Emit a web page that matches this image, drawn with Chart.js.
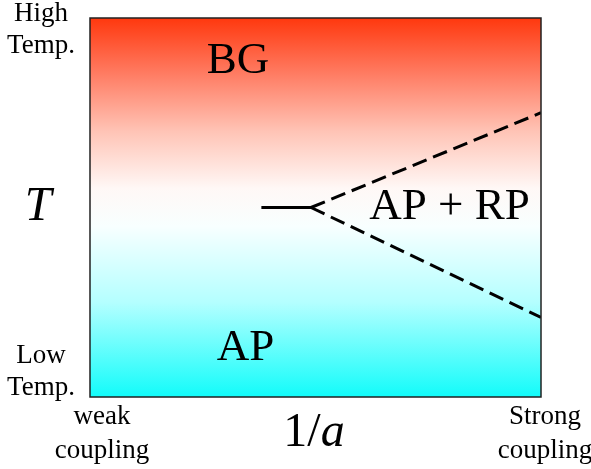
<!DOCTYPE html>
<html>
<head>
<meta charset="utf-8">
<script src="https://cdn.jsdelivr.net/npm/chart.js@4.4.0/dist/chart.umd.min.js"></script>
<style>
  html, body { margin: 0; padding: 0; background: #fff; }
  #wrap { position: relative; width: 591px; height: 469px; }
</style>
</head>
<body>
<div id="wrap"><canvas id="phase" width="591" height="469"></canvas></div>
<script>
// Фазовая диаграмма: T против 1/a
const solidX = [0.38, 0.49];
const solidY = [0.5, 0.5];
const upperX = [0.49, 1.0];
const upperY = [0.5, 0.75];
const lowerX = [0.49, 1.0];
const lowerY = [0.5, 0.21];

// подписи областей (в координатах данных)
const regionNames = ['BG', 'AP + RP', 'AP'];
const regionX = [0.328, 0.797, 0.345];
const regionY = [0.885, 0.5, 0.13];

const serif = '"Liberation Serif", "Times New Roman", serif';

function toPoints(xs, ys) {
  return xs.map((x, i) => ({ x: x, y: ys[i] }));
}

// фон-градиент и рамка
const backdrop = {
  id: 'backdrop',
  beforeDatasetsDraw(chart) {
    const { ctx, chartArea: a } = chart;
    const g = ctx.createLinearGradient(0, a.top, 0, a.bottom);
    g.addColorStop(0, 'rgb(255,56,14)');
    g.addColorStop(0.15, 'rgb(255,125,100)');
    g.addColorStop(0.3, 'rgb(255,196,182)');
    g.addColorStop(0.45, 'rgb(255,248,246)');
    g.addColorStop(0.55, 'rgb(248,255,255)');
    g.addColorStop(0.75, 'rgb(180,255,255)');
    g.addColorStop(1, 'rgb(18,252,250)');
    ctx.save();
    ctx.fillStyle = g;
    ctx.fillRect(a.left, a.top, a.right - a.left, a.bottom - a.top);
    ctx.restore();
  },
  afterDatasetsDraw(chart) {
    const { ctx, chartArea: a, scales } = chart;
    ctx.save();
    ctx.strokeStyle = '#222';
    ctx.lineWidth = 1.5;
    ctx.strokeRect(a.left, a.top, a.right - a.left, a.bottom - a.top);

    ctx.fillStyle = '#000';
    ctx.textAlign = 'center';
    ctx.textBaseline = 'middle';
    ctx.font = '45px ' + serif;
    regionNames.forEach((t, i) => {
      ctx.fillText(t, scales.x.getPixelForValue(regionX[i]), scales.y.getPixelForValue(regionY[i]));
    });

    // оси
    ctx.font = 'italic 48px ' + serif;
    ctx.fillText('T', 38, 207);

    ctx.textBaseline = 'alphabetic';
    const one = '1/';
    ctx.font = 'italic 48px ' + serif;
    const wa = ctx.measureText('a').width;
    ctx.font = '48px ' + serif;
    const w1 = ctx.measureText(one).width;
    const x0 = 314 - (w1 + wa) / 2;
    ctx.textAlign = 'left';
    ctx.fillText(one, x0, 446);
    ctx.font = 'italic 48px ' + serif;
    ctx.fillText('a', x0 + w1, 446);

    ctx.textAlign = 'center';
    ctx.font = '27px ' + serif;
    ctx.fillText('High', 41, 21);
    ctx.fillText('Temp.', 41, 53);
    ctx.fillText('Low', 41, 363);
    ctx.fillText('Temp.', 41, 395);
    ctx.fillText('weak', 102, 424);
    ctx.fillText('coupling', 102, 458);
    ctx.fillText('Strong', 545, 424);
    ctx.fillText('coupling', 545, 458);
    ctx.restore();
  }
};

new Chart(document.getElementById('phase'), {
  type: 'line',
  data: {
    datasets: [
      { data: toPoints(solidX, solidY), borderColor: '#000', borderWidth: 3, pointRadius: 0 },
      { data: toPoints(upperX, upperY), borderColor: '#000', borderWidth: 3, borderDash: [15, 7], pointRadius: 0 },
      { data: toPoints(lowerX, lowerY), borderColor: '#000', borderWidth: 3, borderDash: [15, 7], pointRadius: 0 }
    ]
  },
  options: {
    responsive: false,
    animation: false,
    devicePixelRatio: 1,
    layout: { padding: { left: 90, top: 18, right: 50, bottom: 72 } },
    plugins: { legend: { display: false }, tooltip: { enabled: false } },
    scales: {
      x: { type: 'linear', min: 0, max: 1, display: false },
      y: { type: 'linear', min: 0, max: 1, display: false }
    }
  },
  plugins: [backdrop]
});
</script>
</body>
</html>
